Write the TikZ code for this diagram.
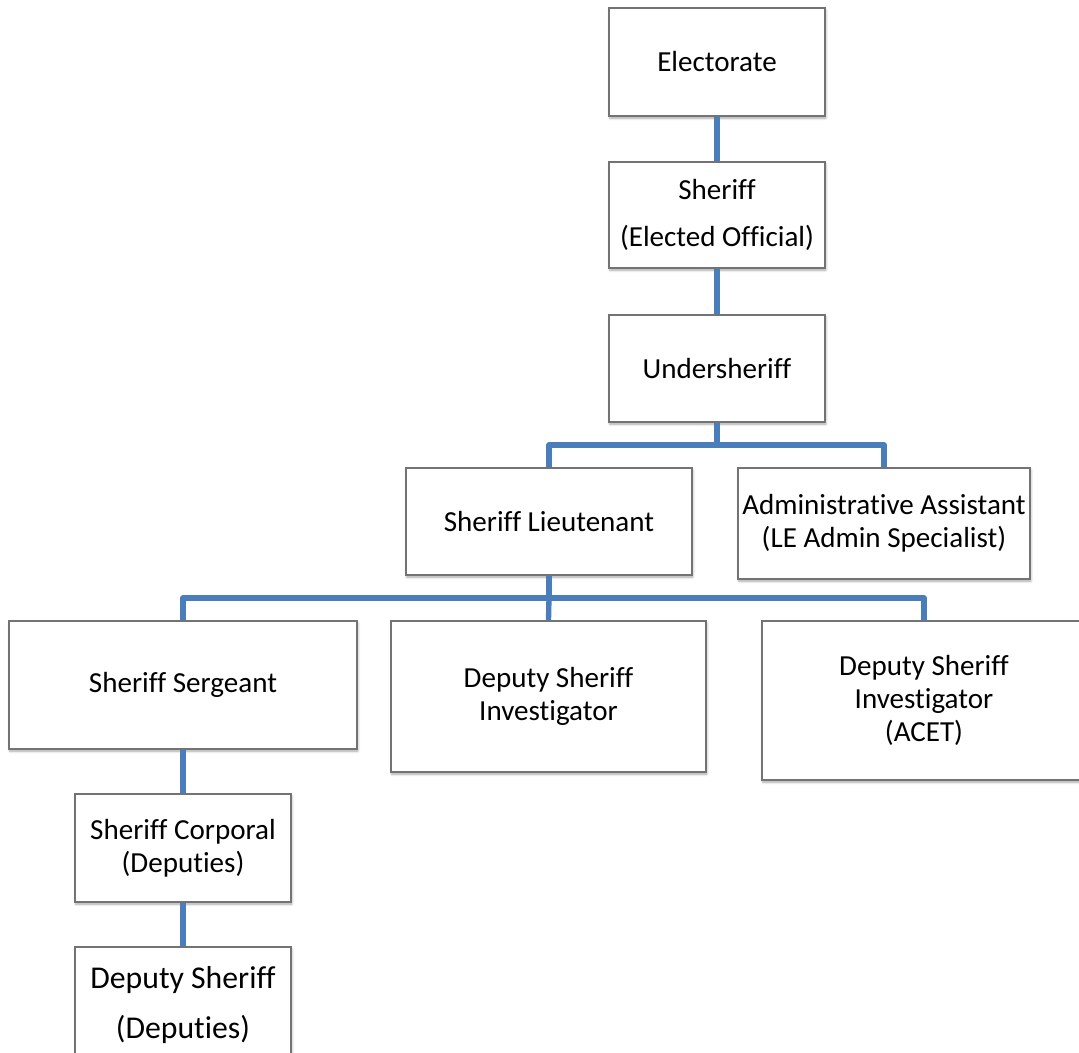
\documentclass[tikz,border=0pt]{standalone}
\usepackage{fontspec}
\setmainfont{Carlito}[Ligatures=NoCommon]
\usetikzlibrary{positioning, calc, shadows.blur}

\definecolor{linkblue}{RGB}{74,126,187}

\begin{document}
\begin{tikzpicture}[x=0.75pt, y=-0.75pt,
    box/.style={draw=black!55, line width=0.8pt, fill=white, align=center,
        inner sep=1pt, font=\fontsize{21.8}{25}\selectfont,
        blur shadow={shadow xshift=0.6pt, shadow yshift=-1.6pt,
            shadow blur steps=5, shadow opacity=35}},
    link/.style={draw=linkblue, line width=4pt, line join=round}]
    % fix the page size
    \useasboundingbox (0,0) rectangle (1079,1053);

    % where the lines split
    \coordinate (fork1) at (717,445);
    \coordinate (fork2) at (549,598);

    % the boxes
    \node[box, minimum width=162pt, minimum height=81pt]    (elect)  at (717,62)    {Electorate};
    \node[box, minimum width=162pt, minimum height=79.5pt,
          font=\fontsize{21.8}{35}\selectfont]              (sheriff) at (717,215)  {Sheriff\\(Elected Official)};
    \node[box, minimum width=162pt, minimum height=80.25pt] (under)  at (717,368.5) {Undersheriff};
    \node[box, minimum width=214.5pt, minimum height=80.25pt] (lieut) at (549,521.5) {Sheriff Lieutenant};
    \node[box, minimum width=219pt, minimum height=83.25pt] (admin)  at (884,523.5) {Administrative Assistant\\(LE Admin Specialist)};
    \node[box, minimum width=261pt, minimum height=96pt]    (serg)   at (183,685)   {Sheriff Sergeant};
    \node[box, minimum width=236.25pt, minimum height=113.25pt] (invest) at (548.5,696.5) {Deputy Sheriff\\Investigator};
    \node[box, minimum width=243pt, minimum height=119.25pt] (acet)  at (924,700.5) {Deputy Sheriff\\Investigator\\(ACET)};
    \node[box, minimum width=162pt, minimum height=81pt]    (corp)   at (183,848)   {Sheriff Corporal\\(Deputies)};
    \node[box, minimum width=162pt, minimum height=87pt,
          font=\fontsize{23.8}{37.5}\selectfont]            (deputy) at (183,1005)  {Deputy Sheriff\\(Deputies)};

    % the lines between them
    \draw[link] (elect) -- (sheriff);
    \draw[link] (sheriff) -- (under);
    \draw[link] (under) -- (fork1);
    \draw[link] (lieut.north) |- (fork1) -| (admin.north);
    \draw[link] (lieut) -- (fork2);
    \draw[link] (serg.north) |- (fork2) -| (acet.north);
    \draw[link] (fork2) -- (invest.north);
    \draw[link] (serg) -- (corp);
    \draw[link] (corp) -- (deputy);
\end{tikzpicture}
\end{document}
